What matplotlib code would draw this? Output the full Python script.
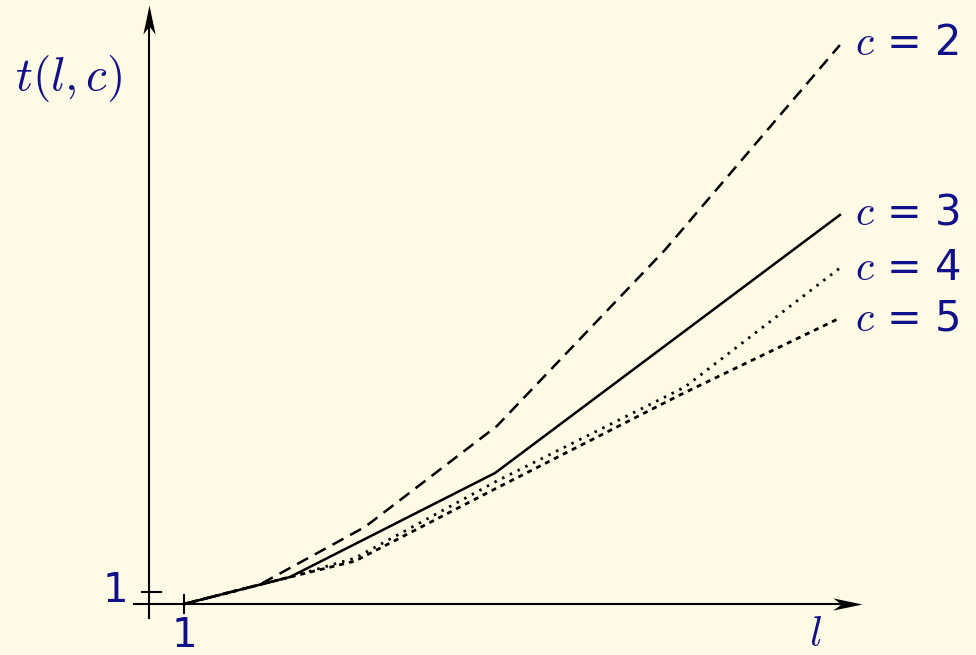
import matplotlib
matplotlib.use('Agg')
import matplotlib.pyplot as plt
from matplotlib.path import Path

plt.rcParams['mathtext.fontset'] = 'cm'
plt.rcParams['font.family'] = ['DejaVu Sans']
plt.rcParams['lines.scale_dashes'] = False

# values (l along x, t along y)
l_c2 = [1, 3.17, 6.17, 9.94, 14.74, 19.74]
t_c2 = [0, 1.63, 6.42, 14.83, 29.5, 46.58]

l_c3 = [1, 4.03, 9.89, 19.74]
t_c3 = [0, 2.25, 10.92, 32.42]

l_c4 = [1, 4.03, 5.89, 9.94, 15.31, 19.74]
t_c4 = [0, 2.25, 3.83, 10.25, 18.08, 28.0]

l_c5 = [1, 4.03, 5.89, 9.94, 15.17, 19.74]
t_c5 = [0, 2.25, 3.58, 9.67, 17.42, 23.83]

labels = ['$c$ = 2', '$c$ = 3', '$c$ = 4', '$c$ = 5']
label_t = [46.75, 32.6, 28.0, 23.8]

bg = '#fffae6'
navy = '#10108a'

fig = plt.figure(figsize=(9.76, 6.55), dpi=100, facecolor=bg)
ax = fig.add_axes([0, 0, 1, 1])
ax.set_facecolor(bg)
ax.set_xlim(-4.257, 23.629)
ax.set_ylim(-4.25, 50.333)
ax.axis('off')


# stealth style arrow head, tip at the origin of the path
def head(angle):
    p = Path([(0, 0), (-1, 0.21), (-0.72, 0), (-1, -0.21), (0, 0)],
             [Path.MOVETO, Path.LINETO, Path.LINETO, Path.LINETO, Path.CLOSEPOLY])
    return p.transformed(matplotlib.transforms.Affine2D().rotate_deg(angle))


# axes
ax.plot([-0.43, 20.0], [0, 0], color='black', lw=1.5)
ax.plot([0, 0], [-1.17, 49.0], color='black', lw=1.5)
ax.plot([20.37], [0], marker=head(0), markersize=42, color='black', mew=0)
ax.plot([0], [49.92], marker=head(90), markersize=42, color='black', mew=0)

# ticks
ax.plot([1, 1], [-0.75, 0.75], color='black', lw=1.5)
ax.plot([-0.2, 0.34], [1, 1], color='black', lw=1.5)
ax.text(1, -2.65, '1', color=navy, fontsize=29, ha='center', va='center')
ax.text(-0.97, 1.1, '1', color=navy, fontsize=29, ha='center', va='center')

# curves
ax.plot(l_c3, t_c3, color='black', lw=1.8, solid_joinstyle='round')
ax.plot(l_c2, t_c2, color='black', lw=1.8, dashes=(9, 5.5))
ax.plot(l_c4, t_c4, color='black', lw=2.0, dashes=(1.8, 4.4), dash_capstyle='butt')
ax.plot(l_c5, t_c5, color='black', lw=2.0, dashes=(3.6, 3.6))

for lab, ty in zip(labels, label_t):
    ax.text(20.17, ty, lab, color=navy, fontsize=30, ha='left', va='center')

ax.text(19.03, -2.5, '$l$', color=navy, fontsize=30, ha='center', va='center')
ax.text(-2.31, 43.83, '$t(l,c)$', color=navy, fontsize=34, ha='center', va='center')

fig.savefig('out.png', dpi=100, facecolor=bg)
